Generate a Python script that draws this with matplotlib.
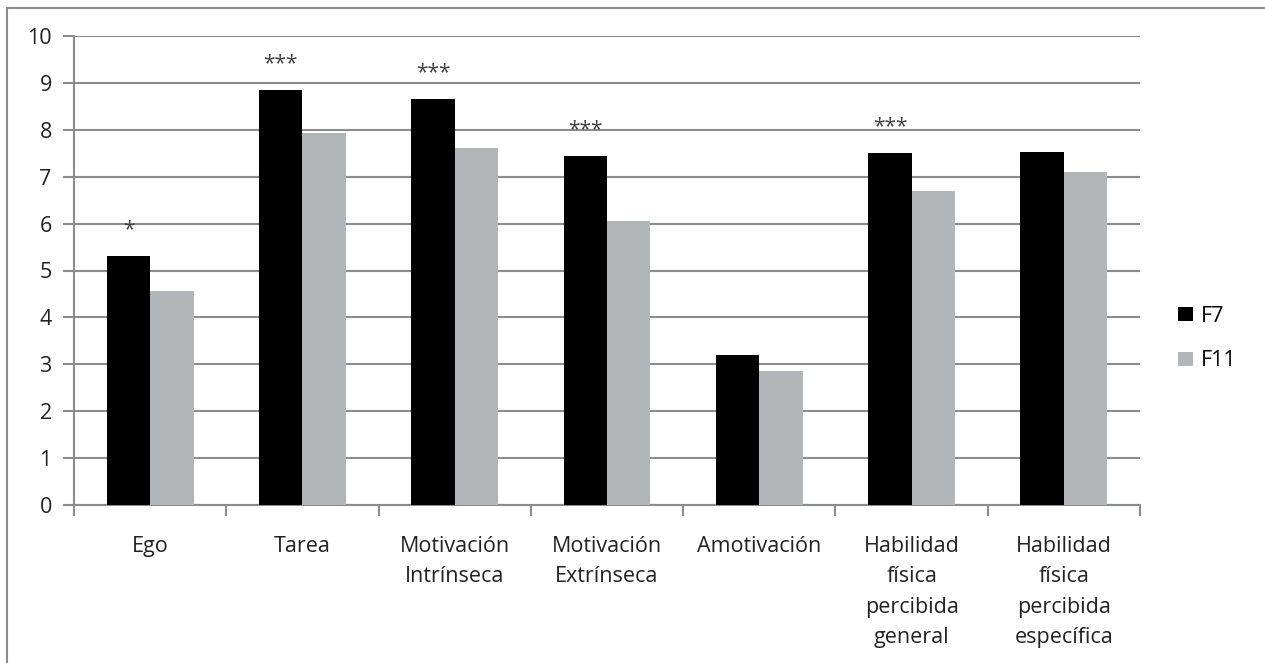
import matplotlib.pyplot as plt
import matplotlib.patches as mpatches
import numpy as np

categories = ['Ego', 'Tarea', 'Motivación\nIntrínseca', 'Motivación\nExtrínseca',
              'Amotivación', 'Habilidad\nfísica\npercibida\ngeneral',
              'Habilidad\nfísica\npercibida\nespecífica']
f7 = [5.31, 8.85, 8.65, 7.44, 3.19, 7.50, 7.52]
f11 = [4.56, 7.93, 7.61, 6.06, 2.85, 6.70, 7.10]
signif = ['*', '***', '***', '***', '', '***', '']

plt.rcParams['font.family'] = ['Open Sans', 'DejaVu Sans']

fig = plt.figure(figsize=(12.65, 6.63), dpi=100)
ax = fig.add_axes([74/1265, 1-505/663, (1140-74)/1265, (505-36)/663])

# outer chart border (cut off at right and bottom like the original)
fig.patches.append(mpatches.Rectangle((7/1265, -0.1), 1.2, 1.1 - 8/663,
                                      transform=fig.transFigure, fill=False,
                                      edgecolor='#8c8c8c', lw=1.5))

x = np.arange(len(categories))
w = 0.285
ax.bar(x - w/2, f7, w, color='black', label='F7', zorder=3)
ax.bar(x + w/2, f11, w, color='#b3b6b8', label='F11', zorder=3)

for xi, v, s in zip(x, f7, signif):
    if s:
        ax.text(xi - w/2, v + 0.56, s, ha='center', va='center',
                fontsize=15, color='#404040')

ax.set_xlim(-0.5, len(categories) - 0.5)
ax.set_ylim(0, 10)
ax.set_yticks(range(0, 11))
ax.grid(axis='y', color='#8c8c8c', lw=1.5, zorder=0)

ax.set_xticks(x)
ax.set_xticklabels(categories, fontsize=15.5, color='#222222', linespacing=1.6)
ax.set_xticks(np.arange(-0.5, len(categories)), minor=True)
ax.tick_params(axis='x', which='major', length=0, pad=22)
ax.tick_params(axis='x', which='minor', length=8, width=1.5, color='#8c8c8c')
ax.tick_params(axis='y', length=8, width=1.5, color='#8c8c8c', labelsize=15.5,
               labelcolor='#222222', pad=8)

for side in ['top', 'right']:
    ax.spines[side].set_visible(False)
for side in ['left', 'bottom']:
    ax.spines[side].set_color('#8c8c8c')
    ax.spines[side].set_linewidth(1.5)

fig.legend(loc='center left', bbox_to_anchor=(1178/1265, 1-338.5/663),
           bbox_transform=fig.transFigure, frameon=False,
           fontsize=15.5, handlelength=0.7, handleheight=0.65, handletextpad=0.35,
           labelspacing=1.1, borderpad=0, borderaxespad=0)

fig.savefig('out.png', dpi=100)
